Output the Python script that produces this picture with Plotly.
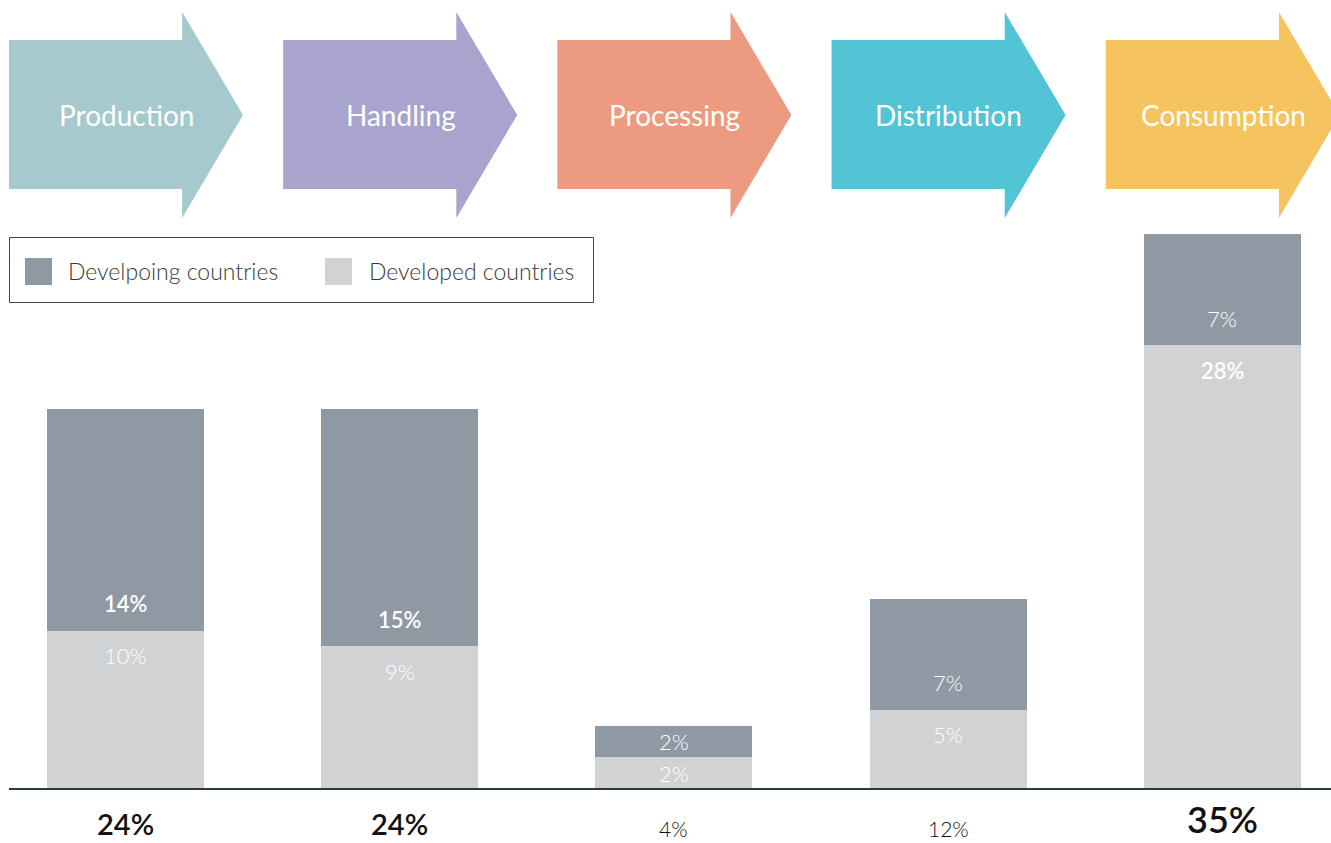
import plotly.graph_objects as go

# ---- data -------------------------------------------------------------
stages = ["Production", "Handling", "Processing", "Distribution", "Consumption"]
developing = [14, 15, 2, 7, 7]     # upper segment
developed = [10, 9, 2, 5, 28]      # lower segment
series_names = ["Develpoing countries", "Developed countries"]

# ---- styles -----------------------------------------------------------
W, H = 1331, 843
FONT = "Lato"
DARK = "#8E99A4"
LIGHT = "#D1D2D4"
STAGE_COLORS = ["#A6C9CE", "#A8A4CE", "#EC9B80", "#52C4D6", "#F5C45E"]
# labels drawn in a heavier weight: (stage index, series) pairs
EMPHASIS = {(0, "dev"), (1, "dev"), (4, "ed")}


# font size / weight of the totals row, keyed on the total value
def total_style(v):
    if v >= 30:
        return 36, 600
    if v >= 20:
        return 29, 600
    return 21, 300


PX_PER_UNIT_X = 274.2
FIRST_CENTER_PX = 125.5
PX_PER_PCT = 15.85
BASE_PX = 789
BAR_W = 157 / PX_PER_UNIT_X

x = list(range(len(stages)))
x_range = [-FIRST_CENTER_PX / PX_PER_UNIT_X, (W - FIRST_CENTER_PX) / PX_PER_UNIT_X]
y_range = [-(H - BASE_PX) / PX_PER_PCT, BASE_PX / PX_PER_PCT]


def py(p):
    """pixel row -> paper y"""
    return 1 - p / H


fig = go.Figure()
fig.add_trace(go.Bar(x=x, y=developed, name=series_names[1], marker_color=LIGHT,
                     width=BAR_W, marker_line_width=0, hoverinfo="skip"))
fig.add_trace(go.Bar(x=x, y=developing, name=series_names[0], marker_color=DARK,
                     width=BAR_W, marker_line_width=0, hoverinfo="skip"))

shapes = []
annotations = []

# process arrows across the top
for i, (name, col) in enumerate(zip(stages, STAGE_COLORS)):
    left, notch, tip = i - 0.425, i + 0.2065, i + 0.4285
    bt, bb, ht, hb, ty = py(40), py(189), py(12), py(218), py(115)
    path = (f"M {left},{bt} L {notch},{bt} L {notch},{ht} L {tip},{ty} "
            f"L {notch},{hb} L {notch},{bb} L {left},{bb} Z")
    shapes.append(dict(type="path", path=path, xref="x", yref="paper",
                       fillcolor=col, line_width=0, layer="below"))
    annotations.append(dict(x=i + 0.003, y=ty, xref="x", yref="paper", text=name,
                            showarrow=False, xanchor="center", yanchor="middle",
                            font=dict(family=FONT, size=28, color="white", weight=400)))

# segment labels around the boundary between the two stacks
for i in x:
    lo, hi = developed[i], developing[i]
    off_lo = min(25, lo * PX_PER_PCT / 2)
    off_hi = min(27, hi * PX_PER_PCT / 2)
    w_hi = 600 if (i, "dev") in EMPHASIS else 300
    w_lo = 600 if (i, "ed") in EMPHASIS else 300
    annotations.append(dict(x=i, y=lo, xref="x", yref="y", text=f"{hi}%", yshift=off_hi,
                            showarrow=False, yanchor="middle",
                            font=dict(family=FONT, size=22, color="white", weight=w_hi)))
    annotations.append(dict(x=i, y=lo, xref="x", yref="y", text=f"{lo}%", yshift=-off_lo,
                            showarrow=False, yanchor="middle",
                            font=dict(family=FONT, size=22, color="white", weight=w_lo)))
    tot = lo + hi
    size, weight = total_style(tot)
    annotations.append(dict(x=i, y=py(842), xref="x", yref="paper", text=f"{tot}%",
                            showarrow=False, yanchor="bottom", borderpad=0,
                            font=dict(family=FONT, size=size, color="#111111", weight=weight)))

# baseline
shapes.append(dict(type="line", xref="paper", yref="y", x0=9 / W, x1=1, y0=0, y1=0,
                   line=dict(color="#2E3D33", width=2)))

# legend box
shapes.append(dict(type="rect", xref="paper", yref="paper", x0=9.5 / W, x1=593.5 / W,
                   y0=py(302.5), y1=py(237.5), line=dict(color="#444444", width=1),
                   fillcolor="rgba(0,0,0,0)"))
for (sx, col, label, tx) in [(25, DARK, series_names[0], 66), (325, LIGHT, series_names[1], 367)]:
    shapes.append(dict(type="rect", xref="paper", yref="paper", x0=sx / W, x1=(sx + 27) / W,
                       y0=py(285), y1=py(258), line_width=0, fillcolor=col))
    annotations.append(dict(x=tx / W, y=py(271), xref="paper", yref="paper", text=label,
                            showarrow=False, xanchor="left", yanchor="middle",
                            font=dict(family=FONT, size=23, color="#3A3A3A", weight=300)))

fig.update_layout(
    width=W, height=H, barmode="stack", showlegend=False,
    margin=dict(l=0, r=0, t=0, b=0),
    paper_bgcolor="white", plot_bgcolor="white",
    xaxis=dict(range=x_range, visible=False, fixedrange=True),
    yaxis=dict(range=y_range, visible=False, fixedrange=True),
    shapes=shapes, annotations=annotations,
)

fig.write_html("out.html")
